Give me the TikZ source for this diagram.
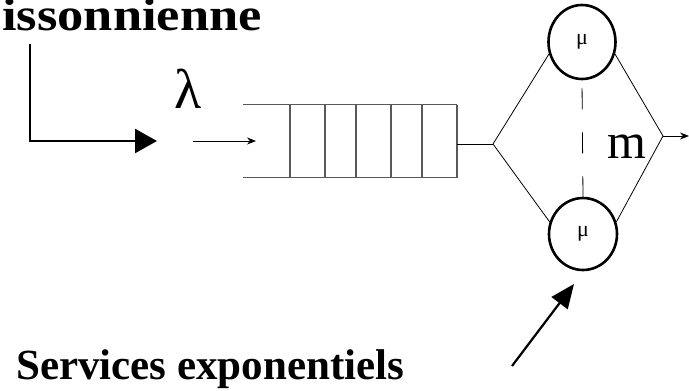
\documentclass[tikz,border=0pt]{standalone}
\usepackage{fontspec}
\setmainfont{Liberation Serif}
\usetikzlibrary{arrows.meta,shapes.geometric}
\begin{document}
\begin{tikzpicture}[x=1pt,y=-1pt,
  queueline/.style={draw=black!65,line width=1.4pt},
  thin/.style={draw=black,line width=0.8pt},
  server/.style={ellipse,draw=black,line width=2.6pt,inner sep=0pt,font=\fontsize{22}{23}\selectfont},
  bigarrow/.style={draw=black,line width=2.6pt,-{Triangle[length=22pt,width=24pt]}},
  smallarrow/.style={draw=black,line width=0.8pt,-{Stealth[length=9pt,width=7pt]}},
  title/.style={font=\fontsize{46}{48}\selectfont\bfseries,inner sep=0pt,xscale=1.14},
  label/.style={font=\fontsize{43}{45}\selectfont\bfseries,inner sep=0pt}]
\useasboundingbox (0,0) rectangle (689,391);
\clip (0,0) rectangle (689,391);

% captions
\node[title,anchor=base east] (arr) at (262,30) {issonnienne};
\node[label,anchor=base west] (serv) at (16,379) {Services exponentiels};

% arrival
\coordinate (bend) at (30,141);
\coordinate (arrtail) at (30,44);
\coordinate (arrtip) at (157,141);
\draw[bigarrow] (arrtail) -- (bend) -- (arrtip);
\node[font=\fontsize{56}{58}\selectfont,inner sep=0pt] (lam) at (188,89) {λ};
\coordinate (inA) at (193,141);
\coordinate (inB) at (256,141);
\draw[smallarrow] (inA) -- (inB);

% queue
\coordinate (qtl) at (243,104.5);
\coordinate (qtr) at (457,104.5);
\coordinate (qbl) at (243,177.5);
\coordinate (qbr) at (457,177.5);
\draw[queueline] (qtl) -- (qtr);
\draw[queueline] (qbl) -- (qbr);
\foreach \x in {290,325,356,391,422,457}
  \draw[queueline] (\x,104.5) -- (\x,177.5);
\coordinate (qout) at (457,144);
\coordinate (split) at (493,144);
\draw[thin] (qout) -- (split);

% servers
\node[server,minimum width=67pt,minimum height=74pt] (s1) at (582,42) {μ};
\node[server,minimum width=68pt,minimum height=72pt] (s2) at (583,234) {μ};
\draw[thin] (split) -- (s1.200);
\draw[thin] (split) -- (s2.160);
\coordinate (join) at (663,136);
\draw[thin] (s1.-20) -- (join);
\draw[thin] (s2.20) -- (join);
\coordinate (outend) at (689,136);
\draw[smallarrow] (join) -- (outend);
\draw[thin,dash pattern=on 21pt off 23pt,dash phase=-8pt] (s1.south) -- (s2.north);
\node[font=\fontsize{50}{52}\selectfont,inner sep=0pt,anchor=base] (m) at (627,158) {m};

% service arrow
\coordinate (svtail) at (512,366);
\coordinate (svtip) at (574,284);
\draw[draw=black,line width=2.2pt,-{Triangle[length=24pt,width=20pt]}] (svtail) -- (svtip);
\end{tikzpicture}
\end{document}
